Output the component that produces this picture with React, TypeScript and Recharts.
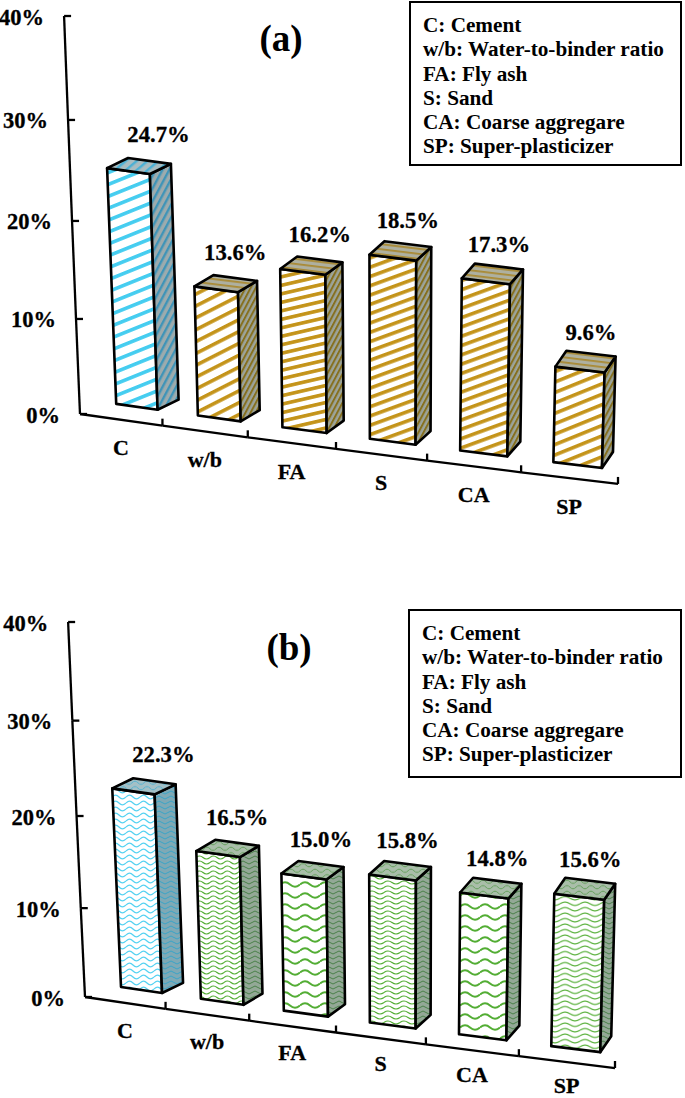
import React from 'react';
import { BarChart, Bar, XAxis, YAxis } from 'recharts';

const categories = ['C', 'w/b', 'FA', 'S', 'CA', 'SP'];
const sharesA = [24.7, 13.6, 16.2, 18.5, 17.3, 9.6];
const sharesB = [22.3, 16.5, 15.0, 15.8, 14.8, 15.6];
const yTicks = [0, 10, 20, 30, 40];
const legendLines = [
  'C: Cement',
  'w/b: Water-to-binder ratio',
  'FA: Fly ash',
  'S: Sand',
  'CA: Coarse aggregare',
  'SP: Super-plasticizer',
];

const FONT = '"Liberation Serif", "Times New Roman", serif';
// the source text is a little heavier than plain bold
const heavy = { stroke: '#000', strokeWidth: 0.3 };

// Each panel is a plain bar chart pushed through a small "3D" projection
interface Panel {
  id: string;
  title: string;
  top: number;
  height: number;
  left: number;
  right: number;
  plotTop: number;
  plotBottom: number;
  slope: number;
  warp: number;
  bow: number;
  leanL: number;
  leanR: number;
  barBow: [number, number, number];
  labelDrop: [number, number];
  titleX: number;
  titleY: number;
  box: { left: number; top: number; width: number; height: number };
}

const panelA: Panel = {
  id: 'a', title: '(a)', top: 0, height: 540, left: 80, right: 618, plotTop: 16, plotBottom: 414,
  slope: 0.13, warp: 52, bow: 0.00015, leanL: -0.04, leanR: 0.03,
  barBow: [2.1, -3.8, 0], labelDrop: [28, 0], titleX: 281, titleY: 39,
  box: { left: 409, top: 1, width: 273, height: 165 },
};
const panelB: Panel = {
  id: 'b', title: '(b)', top: 560, height: 538, left: 85, right: 615, plotTop: 62, plotBottom: 437,
  slope: 0.134, warp: 56, bow: 0.000185, leanL: -0.045, leanR: 0.03,
  barBow: [1.9, -3.2, -1], labelDrop: [28, -5], titleX: 289, titleY: 88,
  box: { left: 408, top: 609, width: 274, height: 169 },
};

const project = (p: Panel, px: number, py: number, bowScale = 1) => {
  const w = p.right - p.left;
  const t = (px - p.left) / w;
  const h = p.plotBottom - py;
  const lean = p.leanL + (p.leanR - p.leanL) * t;
  return {
    x: px - p.warp * t * (1 - t) + lean * h,
    y: py + p.slope * (px - p.left) + bowScale * p.bow * h * (p.plotBottom - p.plotTop - h),
  };
};

const YTick = ({ p, y, payload, index }: any) => {
  const a = project(p, p.left, y);
  const step = (p.plotBottom - p.plotTop) / (yTicks.length - 1);
  const b = project(p, p.left, y - step);
  return (
    <g>
      {index < yTicks.length - 1 && <line x1={a.x} y1={a.y} x2={b.x} y2={b.y} stroke="#000" strokeWidth={2.3} />}
      <line x1={a.x} y1={a.y} x2={a.x + 7} y2={a.y} stroke="#000" strokeWidth={2.3} />
      <text x={a.x - 20} y={a.y + 1} textAnchor="end" dominantBaseline="central" fontFamily={FONT} fontWeight="bold" fontSize={22.5} fill="#000" {...heavy}>
        {payload.value}%
      </text>
    </g>
  );
};

const XTick = ({ p, payload }: any) => {
  const band = (p.right - p.left) / categories.length;
  const cx = payload.coordinate;
  const a = project(p, cx - band / 2, p.plotBottom);
  const b = project(p, cx + band / 2, p.plotBottom);
  const c = project(p, cx, p.plotBottom);
  const t = (cx - p.left) / (p.right - p.left);
  return (
    <g>
      <line x1={a.x} y1={a.y} x2={b.x} y2={b.y} stroke="#000" strokeWidth={2.3} />
      <line x1={b.x} y1={b.y} x2={b.x} y2={b.y - 7} stroke="#000" strokeWidth={2.3} />
      <text x={c.x} y={c.y + p.labelDrop[0] + p.labelDrop[1] * t} textAnchor="middle" dominantBaseline="central" fontFamily={FONT} fontWeight="bold" fontSize={22} fill="#000" {...heavy}>
        {payload.value}
      </text>
    </g>
  );
};

const Box3D = ({ p, x, y, width, height, value, index }: any) => {
  const w = p.right - p.left;
  const t = (x + width / 2 - p.left) / w;
  // bars stand a little way back on the floor
  const fx = 17 - 9 * t;
  const fy = -13;
  const dx = 22 - 12 * t;
  const dy = -9.5 - 7 * t;
  const bowScale = Math.max(p.barBow[2], p.barBow[0] + p.barBow[1] * t);
  const at = (px: number, py: number) => {
    const q = project(p, px, py, bowScale);
    return { x: q.x + fx, y: q.y + fy };
  };
  const tl = at(x, y);
  const tr = at(x + width, y);
  const bl = at(x, y + height);
  const br = at(x + width, y + height);
  const pts = (list: { x: number; y: number }[]) => list.map((c) => `${c.x},${c.y}`).join(' ');
  const off = (c: { x: number; y: number }) => ({ x: c.x + dx, y: c.y + dy });
  const line = { stroke: '#000', strokeWidth: 2.6, strokeLinejoin: 'round' as const };
  // the tall first bar has its value further to the right
  const labelX = (tl.x + tr.x) / 2 + dx + (index === 0 ? 9 : 0);
  return (
    <g>
      <polygon points={pts([tl, tr, br, bl])} fill={`url(#${p.id}-front-${index})`} {...line} />
      <polygon points={pts([tr, off(tr), off(br), br])} fill={`url(#${p.id}-side-${index})`} {...line} />
      <polygon points={pts([tl, off(tl), off(tr), tr])} fill={`url(#${p.id}-top-${index})`} {...line} />
      <text x={labelX} y={tl.y - 34} textAnchor="middle" dominantBaseline="central" fontFamily={FONT} fontWeight="bold" fontSize={22.7} fill="#000" {...heavy}>
        {value.toFixed(1)}%
      </text>
    </g>
  );
};

// front stripes of panel (a): [angle, spacing]
const stripeA = [[-22, 12], [-27, 11.5], [-13, 9], [-20, 9.5], [-20, 9.5], [-22, 10.5]];
// front waves of panel (b): [period, row]
const waveB = [[14, 6], [14, 5], [20, 11], [16, 5], [20, 11], [20, 5.5]];

const Stripes = ({ id, bg, fg, angle, gap, thick }: any) => (
  <pattern id={id} patternUnits="userSpaceOnUse" width={20} height={gap} patternTransform={`rotate(${angle})`}>
    <rect width={20} height={gap} fill={bg} />
    <rect width={20} height={thick} fill={fg} />
  </pattern>
);

const Waves = ({ id, bg, fg, period, row, sw }: any) => {
  const mid = row / 2;
  const amp = Math.min(row * 0.3, 2.2);
  return (
    <pattern id={id} patternUnits="userSpaceOnUse" width={period} height={row}>
      <rect width={period} height={row} fill={bg} />
      <path
        d={`M0,${mid} Q${period / 4},${mid - amp * 2} ${period / 2},${mid} T${period},${mid}`}
        fill="none"
        stroke={fg}
        strokeWidth={sw}
      />
    </pattern>
  );
};

const PatternsA = () => (
  <defs>
    {stripeA.map(([angle, gap], i) => {
      const blue = i === 0;
      return (
        <React.Fragment key={i}>
          <Stripes id={`a-front-${i}`} bg="#fff" fg={blue ? '#45cdf0' : '#c4941a'} angle={angle} gap={gap * 0.92} thick={3.6} />
          <Stripes id={`a-side-${i}`} bg={blue ? '#9dabad' : '#9ca49b'} fg={blue ? '#3f94b8' : '#86701f'} angle={-62} gap={blue ? 6 : 4.5} thick={blue ? 2.4 : 2} />
          <Stripes id={`a-top-${i}`} bg={blue ? '#a9bcc0' : '#aeb0a0'} fg={blue ? '#4bb0d4' : '#a98a34'} angle={blue ? -40 : 7} gap={blue ? 7 : 5} thick={blue ? 2.4 : 1.8} />
        </React.Fragment>
      );
    })}
  </defs>
);

const PatternsB = () => (
  <defs>
    {waveB.map(([period, row], i) => {
      const blue = i === 0;
      const fg = blue ? '#55d2f2' : '#52ad33';
      return (
        <React.Fragment key={i}>
          <Waves id={`b-front-${i}`} bg="#fff" fg={fg} period={period} row={row} sw={row > 8 ? 2 : 1.2} />
          <Waves id={`b-side-${i}`} bg={blue ? '#7fa9b5' : '#93a896'} fg={blue ? '#3aa4c8' : '#4a8049'} period={12} row={5} sw={1} />
          <Waves id={`b-top-${i}`} bg={blue ? '#a4c0c6' : '#a9bea9'} fg={blue ? '#45b0d0' : '#5a9a50'} period={12} row={5.5} sw={0.9} />
        </React.Fragment>
      );
    })}
  </defs>
);

const LegendBox = ({ p }: { p: Panel }) => (
  <div
    style={{
      position: 'absolute',
      left: p.box.left,
      top: p.box.top,
      width: p.box.width,
      height: p.box.height,
      boxSizing: 'border-box',
      border: '2px solid #000',
      background: '#fff',
      padding: '10px 0 0 12px',
      fontFamily: FONT,
      fontWeight: 'bold',
      fontSize: 21.2,
      lineHeight: '24.3px',
      color: '#000',
      whiteSpace: 'nowrap',
    }}
  >
    {legendLines.map((l) => (
      <div key={l}>{l}</div>
    ))}
  </div>
);

const ChartPanel = ({ p, values, patterns }: { p: Panel; values: number[]; patterns: React.ReactNode }) => {
  const data = categories.map((name, i) => ({ name, share: values[i] }));
  return (
    <div style={{ position: 'absolute', left: 0, top: p.top, width: 685, height: p.height }}>
      <BarChart
        width={685}
        height={p.height}
        data={data}
        barCategoryGap="40%"
        margin={{ top: p.plotTop, right: 685 - p.right, bottom: 0, left: 0 }}
      >
        {patterns}
        <XAxis
          dataKey="name"
          height={p.height - p.plotBottom}
          interval={0}
          axisLine={false}
          tickLine={false}
          tick={(props: any) => <XTick {...props} p={p} />}
        />
        <YAxis
          width={p.left}
          domain={[0, 40]}
          ticks={yTicks}
          interval={0}
          axisLine={false}
          tickLine={false}
          tick={(props: any) => <YTick {...props} p={p} />}
        />
        <Bar
          dataKey="share"
          barSize={45}
          isAnimationActive={false}
          shape={(props: any) => <Box3D {...props} p={p} />}
        />
      </BarChart>
      <div
        style={{
          position: 'absolute',
          left: p.titleX - 40,
          top: p.titleY - 25,
          width: 80,
          height: 50,
          lineHeight: '50px',
          textAlign: 'center',
          fontFamily: FONT,
          fontWeight: 'bold',
          fontSize: 37,
          color: '#000',
        }}
      >
        {p.title}
      </div>
    </div>
  );
};

export default function App() {
  return (
    <div style={{ position: 'absolute', left: 0, top: 0, width: 685, height: 1098, background: '#fff', overflow: 'hidden' }}>
      <ChartPanel p={panelA} values={sharesA} patterns={<PatternsA />} />
      <ChartPanel p={panelB} values={sharesB} patterns={<PatternsB />} />
      <LegendBox p={panelA} />
      <LegendBox p={panelB} />
    </div>
  );
}
